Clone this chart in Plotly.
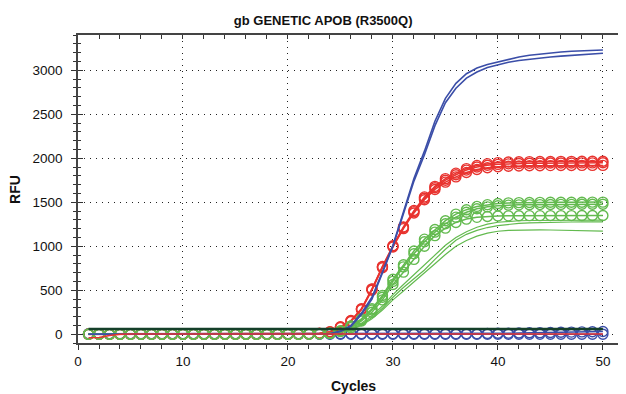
import plotly.graph_objects as go

cycles = list(range(1, 51))

# ---- data (RFU per cycle) ----
blue_line_a = [0, 0, 0, 0, 0, 0, 0, 0, 0, 0, 0, 0, 0, 0, 0, 0, 0, 0, 0, 0, 0, 0, 2,
               5, 35, 100, 240, 420, 710, 1010, 1390, 1770, 2080, 2420, 2680, 2850, 2960,
               3025, 3065, 3095, 3125, 3150, 3170, 3185, 3197, 3207, 3215, 3221, 3226, 3230]
blue_line_b = [0, 0, 0, 0, 0, 0, 0, 0, 0, 0, 0, 0, 0, 0, 0, 0, 0, 0, 0, 0, 0, 0, 2,
               5, 30, 90, 225, 400, 695, 1000, 1370, 1740, 2040, 2370, 2630, 2795, 2910,
               2980, 3030, 3060, 3090, 3110, 3125, 3140, 3150, 3160, 3170, 3178, 3185, 3192]

red_circ_a = [2, 2, 2, 2, 2, 2, 2, 2, 2, 2, 2, 2, 2, 2, 2, 2, 2, 2, 2, 2, 3, 5, 10,
              28, 85, 155, 290, 515, 770, 1005, 1220, 1405, 1560, 1680, 1768, 1830, 1882,
              1918, 1938, 1950, 1956, 1959, 1961, 1962, 1963, 1964, 1964, 1965, 1965, 1966]
red_circ_b = [0, 0, 0, 0, 0, 0, 0, 0, 0, 0, 0, 0, 0, 0, 0, 0, 0, 0, 0, 0, 1, 3, 8,
              25, 80, 150, 285, 510, 765, 1000, 1212, 1393, 1545, 1665, 1750, 1812, 1865,
              1900, 1920, 1930, 1936, 1940, 1942, 1944, 1945, 1946, 1946, 1947, 1947, 1948]
red_circ_c = [-2, -2, -2, -2, -2, -2, -2, -2, -2, -2, -2, -2, -2, -2, -2, -2, -2, -2, -2, -2, 0, 2, 6,
              22, 75, 145, 278, 500, 755, 990, 1200, 1378, 1528, 1645, 1728, 1788, 1838,
              1872, 1892, 1903, 1909, 1912, 1914, 1915, 1916, 1917, 1917, 1918, 1918, 1918]

green_circ_a = [0, 0, 0, 0, 0, 0, 0, 0, 0, 0, 0, 0, 0, 0, 0, 0, 0, 0, 0, 0, 1, 3, 5,
                10, 40, 95, 175, 290, 440, 625, 790, 945, 1080, 1190, 1290, 1365, 1415,
                1452, 1472, 1485, 1492, 1495, 1497, 1498, 1499, 1500, 1500, 1500, 1501, 1501]
green_circ_b = [0, 0, 0, 0, 0, 0, 0, 0, 0, 0, 0, 0, 0, 0, 0, 0, 0, 0, 0, 0, 1, 3, 5,
                10, 35, 90, 165, 275, 420, 600, 765, 915, 1050, 1160, 1255, 1330, 1385,
                1425, 1447, 1460, 1467, 1470, 1472, 1473, 1474, 1475, 1475, 1476, 1476, 1477]
green_circ_c = [0, 0, 0, 0, 0, 0, 0, 0, 0, 0, 0, 0, 0, 0, 0, 0, 0, 0, 0, 0, 1, 2, 4,
                8, 30, 75, 150, 250, 390, 565, 705, 850, 1000, 1120, 1205, 1270, 1308,
                1328, 1338, 1343, 1345, 1346, 1347, 1347, 1348, 1348, 1348, 1349, 1349, 1349]

green_line_a = [0, 0, 0, 0, 0, 0, 0, 0, 0, 0, 0, 0, 0, 0, 0, 0, 0, 0, 0, 0, 1, 2, 4,
                8, 28, 65, 125, 210, 320, 450, 565, 675, 780, 900, 1010, 1100, 1165,
                1215, 1250, 1272, 1283, 1289, 1292, 1294, 1295, 1296, 1296, 1297, 1297, 1297]
green_line_b = [0, 0, 0, 0, 0, 0, 0, 0, 0, 0, 0, 0, 0, 0, 0, 0, 0, 0, 0, 0, 1, 2, 3,
                6, 22, 55, 110, 190, 295, 420, 530, 630, 730, 850, 965, 1068, 1135,
                1180, 1212, 1234, 1250, 1260, 1266, 1270, 1272, 1274, 1275, 1276, 1276, 1277]
green_line_c = [0, 0, 0, 0, 0, 0, 0, 0, 0, 0, 0, 0, 0, 0, 0, 0, 0, 0, 0, 0, 1, 2, 3,
                5, 20, 50, 100, 175, 275, 390, 490, 590, 690, 800, 905, 1000, 1065,
                1115, 1148, 1170, 1180, 1184, 1185, 1185, 1184, 1182, 1180, 1177, 1174, 1171]

blue_circ_a = [0, 0, 0, 0, 0, 0, 0, 0, 0, 0, 0, 0, 0, 0, 0, 0, 0, 0, 0, 0, 0, 0, 0,
               0, 0, 0, 0, 0, 0, 0, 0, 0, 0, 0, 0, 0, 0,
               0, 0, 0, 0, 0, 0, 0, 0, 0, 0, 0, 0, 0]
blue_circ_b = [5, 5, 5, 5, 5, 5, 5, 5, 5, 5, 5, 5, 5, 5, 5, 5, 5, 5, 5, 5, 5, 5, 5,
               5, 5, 5, 5, 5, 5, 5, 5, 5, 5, 5, 5, 5, 5,
               5, 8, 10, 12, 14, 16, 18, 20, 22, 24, 26, 28, 30]

red_line = [-40, -38, -15, 0, 2, 2, 2, 2, 2, 2, 2, 2, 2, 2, 2, 2, 2, 2, 2, 2, 2, 2, 2,
            2, 2, 2, 2, 2, 2, 2, 2, 2, 2, 2, 2, 2, 2,
            2, 2, 2, 2, 2, 2, 2, 2, 2, 2, 2, 2, 2]

threshold = [60, 60]
threshold_x = [1, 50]

x_ticks = [0, 10, 20, 30, 40, 50]
y_ticks = [0, 500, 1000, 1500, 2000, 2500, 3000]

RED = "#e8332f"
GREEN = "#63ba4f"
BLUE = "#3b4ea8"
DKGREEN = "#15402a"

fig = go.Figure()

def circ(y, color):
    fig.add_trace(go.Scatter(
        x=cycles, y=y, mode="lines+markers",
        line=dict(color=color, width=1.5),
        marker=dict(symbol="circle-open", size=10, color=color, line=dict(width=1.4, color=color)),
        showlegend=False, hoverinfo="skip"))

def ln(y, color, w):
    fig.add_trace(go.Scatter(x=cycles, y=y, mode="lines",
                             line=dict(color=color, width=w),
                             showlegend=False, hoverinfo="skip"))

circ(blue_circ_b, BLUE)
circ(blue_circ_a, BLUE)
circ(red_circ_a, RED)
circ(red_circ_b, RED)
circ(red_circ_c, RED)
circ(green_circ_c, GREEN)
circ(green_circ_b, GREEN)
circ(green_circ_a, GREEN)
ln(green_line_a, GREEN, 1.2)
ln(green_line_b, GREEN, 1.2)
ln(green_line_c, GREEN, 1.2)
ln(blue_line_a, BLUE, 1.6)
ln(blue_line_b, BLUE, 1.6)
ln(red_line, RED, 1.5)
fig.add_trace(go.Scatter(x=threshold_x, y=threshold, mode="lines",
                         line=dict(color=DKGREEN, width=2.5),
                         showlegend=False, hoverinfo="skip"))
# dummy for overlay axes
fig.add_trace(go.Scatter(x=[], y=[], xaxis="x2", yaxis="y2", showlegend=False))

FONT = "Arial, Liberation Sans, sans-serif"
XR = [0, 52.2]
YR = [-100, 3400]
GRID = dict(showgrid=True, gridcolor="#222", gridwidth=1, griddash="1px,5px")

# page body has an 8px margin, so the figure is sized to fit the 626x394 window
fig.update_layout(
    width=618, height=386,
    margin=dict(l=70, r=0, t=27, b=51, autoexpand=False),
    paper_bgcolor="white", plot_bgcolor="white",
    font=dict(family=FONT, size=13.5, color="#111"),
    title=dict(text="<b>gb GENETIC APOB (R3500Q)</b>", x=0.51, xanchor="center",
               y=0.969, yanchor="middle", font=dict(size=13, family=FONT, color="#111")),
    xaxis=dict(range=XR, tickvals=x_ticks, ticks="outside", ticklen=5, tickwidth=1.2,
               tickcolor="#333", showline=True, linecolor="#444", linewidth=2,
               zeroline=False, automargin=False,
               minor=dict(dtick=2, tick0=0, ticks="outside", ticklen=4, tickcolor="#333", showgrid=False),
               **GRID),
    yaxis=dict(range=YR, tickvals=y_ticks, ticks="outside", ticklen=5, tickwidth=1.2,
               tickcolor="#333", showline=True, linecolor="#444", linewidth=1.5,
               zeroline=False, ticklabelstandoff=6, automargin=False,
               minor=dict(dtick=100, tick0=0, ticks="outside", ticklen=3, tickcolor="#333", showgrid=False),
               **GRID),
    xaxis2=dict(range=XR, overlaying="x", side="top", anchor="y", showline=True,
                linecolor="#444", linewidth=1.5, ticks="inside", ticklen=4, tickcolor="#333",
                tickvals=x_ticks, showticklabels=False, showgrid=False, zeroline=False,
                automargin=False,
                minor=dict(dtick=2, tick0=0, ticks="inside", ticklen=4, tickcolor="#333")),
    yaxis2=dict(range=YR, overlaying="y", side="left", anchor="x", showline=False,
                ticks="inside", ticklen=5, tickcolor="#333", tickvals=y_ticks,
                showticklabels=False, showgrid=False, zeroline=False, automargin=False,
                minor=dict(dtick=100, tick0=0, ticks="inside", ticklen=3, tickcolor="#333")),
    annotations=[
        dict(text="<b>Cycles</b>", xref="paper", yref="paper", x=0.502, y=-0.14,
             xanchor="center", yanchor="middle", showarrow=False,
             font=dict(size=14, family=FONT, color="#111")),
        dict(text="<b>RFU</b>", xref="paper", yref="paper", x=-0.115, y=0.5,
             xanchor="center", yanchor="middle", showarrow=False, textangle=-90,
             font=dict(size=14, family=FONT, color="#111")),
    ],
)

fig.write_html("out.html")
